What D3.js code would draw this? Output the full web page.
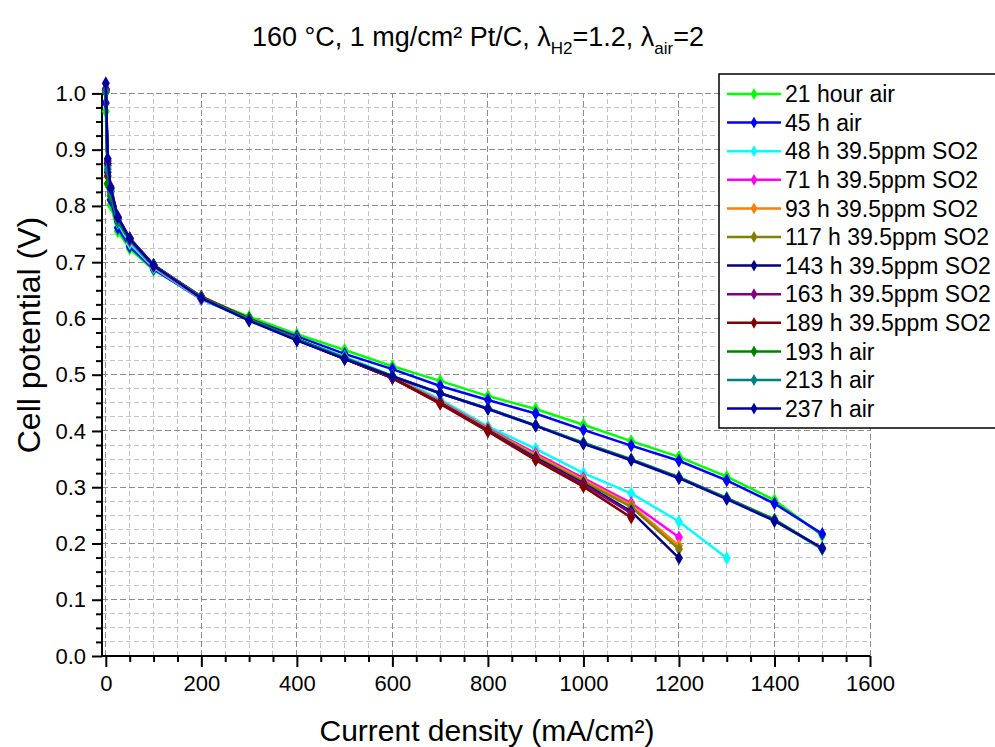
<!DOCTYPE html>
<html>
<head>
<meta charset="utf-8">
<script src="https://cdn.jsdelivr.net/npm/d3@7"></script>
<style>
  body { margin: 0; background: #fff; }
  svg text { font-family: "Liberation Sans", Arial, sans-serif; fill: #000; }
</style>
</head>
<body>
<svg id="chart" width="995" height="747"></svg>
<script>
// current density steps (mA/cm²), shared by all runs
var current_density = [0, 4, 10, 25, 50, 100, 200, 300, 400, 500, 600, 700, 800, 900, 1000, 1100, 1200, 1300, 1400, 1500];

// cell potential (V) per run
var v_21h  = [0.968, 0.838, 0.802, 0.755, 0.724, 0.686, 0.636, 0.603, 0.572, 0.544, 0.515, 0.489, 0.462, 0.439, 0.411, 0.382, 0.354, 0.319, 0.277, 0.214];
var v_45h  = [0.983, 0.860, 0.811, 0.761, 0.728, 0.688, 0.634, 0.599, 0.568, 0.537, 0.510, 0.480, 0.455, 0.431, 0.402, 0.374, 0.347, 0.312, 0.271, 0.217];
var v_48h  = [1.005, 0.868, 0.823, 0.770, 0.733, 0.690, 0.634, 0.598, 0.564, 0.532, 0.498, 0.456, 0.408, 0.368, 0.325, 0.289, 0.239, 0.174];
var v_71h  = [1.005, 0.872, 0.828, 0.775, 0.738, 0.692, 0.635, 0.598, 0.563, 0.530, 0.496, 0.453, 0.405, 0.360, 0.316, 0.272, 0.211];
var v_93h  = [1.006, 0.874, 0.830, 0.778, 0.740, 0.693, 0.636, 0.598, 0.563, 0.530, 0.496, 0.452, 0.404, 0.357, 0.313, 0.268, 0.196];
var v_117h = [1.006, 0.872, 0.830, 0.778, 0.741, 0.694, 0.637, 0.598, 0.562, 0.529, 0.495, 0.451, 0.403, 0.354, 0.310, 0.265, 0.190];
var v_143h = [1.008, 0.876, 0.832, 0.780, 0.742, 0.695, 0.637, 0.597, 0.562, 0.528, 0.494, 0.450, 0.401, 0.352, 0.307, 0.257, 0.174];
var v_163h = [1.008, 0.880, 0.834, 0.781, 0.743, 0.695, 0.638, 0.598, 0.562, 0.528, 0.494, 0.450, 0.401, 0.350, 0.305, 0.254];
var v_189h = [1.005, 0.853, 0.825, 0.778, 0.742, 0.695, 0.639, 0.600, 0.563, 0.528, 0.494, 0.448, 0.399, 0.348, 0.301, 0.246];
var v_193h = [1.002, 0.840, 0.818, 0.772, 0.740, 0.694, 0.638, 0.599, 0.563, 0.530, 0.498, 0.467, 0.440, 0.410, 0.379, 0.350, 0.318, 0.281, 0.243, 0.191];
var v_213h = [1.004, 0.865, 0.826, 0.776, 0.742, 0.695, 0.637, 0.598, 0.562, 0.529, 0.497, 0.467, 0.440, 0.410, 0.378, 0.349, 0.317, 0.280, 0.241, 0.190];
var v_237h = [1.018, 0.884, 0.832, 0.780, 0.742, 0.694, 0.636, 0.596, 0.561, 0.528, 0.497, 0.467, 0.439, 0.409, 0.377, 0.348, 0.316, 0.279, 0.240, 0.192];

var series_names  = ["21 hour air", "45 h air", "48 h 39.5ppm SO2", "71 h 39.5ppm SO2", "93 h 39.5ppm SO2", "117 h 39.5ppm SO2",
                     "143 h 39.5ppm SO2", "163 h 39.5ppm SO2", "189 h 39.5ppm SO2", "193 h air", "213 h air", "237 h air"];
var series_values = [v_21h, v_45h, v_48h, v_71h, v_93h, v_117h, v_143h, v_163h, v_189h, v_193h, v_213h, v_237h];
var series_colors = ["#00ff00", "#0000ff", "#00ffff", "#ff00ff", "#ff8000", "#808000",
                     "#000080", "#800080", "#800000", "#008000", "#008080", "#0000a0"];

var x_ticks = [0, 200, 400, 600, 800, 1000, 1200, 1400, 1600];
var y_ticks = [0.0, 0.1, 0.2, 0.3, 0.4, 0.5, 0.6, 0.7, 0.8, 0.9, 1.0];

var series = series_names.map(function(name, i) {
   return { name: name, color: series_colors[i],
            points: series_values[i].map(function(v, j) { return { x: current_density[j], y: v }; }) };
});

var svg = d3.select("#chart");
var x = d3.scaleLinear().domain([-8, 1600]).range([102, 870]);
var y = d3.scaleLinear().domain([0, 1]).range([656, 93.4]);

var x_minor = d3.range(50, 1600, 50).filter(function(d) { return d % 200 != 0; });
var y_minor = d3.range(1, 40).filter(function(d) { return d % 4 != 0; }).map(function(d) { return d * 0.025; });

// grid: minor first, then major
var grid = svg.append("g").attr("id", "grid");
grid.selectAll("line.xminor").data(x_minor)
   .enter().append("line").attr("class", "xminor")
   .attr("x1", function(d) { return x(d); }).attr("x2", function(d) { return x(d); })
   .attr("y1", y(0)).attr("y2", y(1))
   .attr("stroke", "#c4c4c4").attr("stroke-dasharray", "5 3").style("shape-rendering", "crispEdges");
grid.selectAll("line.yminor").data(y_minor)
   .enter().append("line").attr("class", "yminor")
   .attr("x1", x(-8)).attr("x2", x(1600))
   .attr("y1", function(d) { return y(d); }).attr("y2", function(d) { return y(d); })
   .attr("stroke", "#c4c4c4").attr("stroke-dasharray", "5 3").style("shape-rendering", "crispEdges");
grid.selectAll("line.xmajor").data(x_ticks)
   .enter().append("line").attr("class", "xmajor")
   .attr("x1", function(d) { return x(d); }).attr("x2", function(d) { return x(d); })
   .attr("y1", y(0)).attr("y2", y(1))
   .attr("stroke", "#8c8c8c").attr("stroke-dasharray", "6 3").style("shape-rendering", "crispEdges");
grid.selectAll("line.ymajor").data(y_ticks.slice(1))
   .enter().append("line").attr("class", "ymajor")
   .attr("x1", x(-8)).attr("x2", x(1600))
   .attr("y1", function(d) { return y(d); }).attr("y2", function(d) { return y(d); })
   .attr("stroke", "#8c8c8c").attr("stroke-dasharray", "6 3").style("shape-rendering", "crispEdges");

// axes
var x_axis = svg.append("g").attr("transform", "translate(0," + y(0) + ")")
   .call(d3.axisBottom(x).tickValues(x_ticks).tickSize(11).tickPadding(8).tickFormat(d3.format("d")));
x_axis.append("g").call(d3.axisBottom(x).tickValues(x_minor).tickSize(6).tickFormat(""));
var y_axis = svg.append("g").attr("transform", "translate(" + x(-8) + ",0)")
   .call(d3.axisLeft(y).tickValues(y_ticks).tickSize(10).tickPadding(6).tickFormat(d3.format(".1f")));
y_axis.append("g").call(d3.axisLeft(y).tickValues(y_minor).tickSize(6).tickFormat(""));
svg.selectAll(".domain").attr("stroke", "#000").attr("stroke-width", 2);
svg.selectAll(".tick line").attr("stroke", "#000").attr("stroke-width", 2);
x_axis.selectAll(".domain").attr("d", "M" + x(-8) + ",0H" + x(1600));
y_axis.selectAll(".domain").attr("d", "M0," + y(1) + "V" + y(0));
svg.selectAll(".tick text").style("font-size", "22px").style("font-family", "'Liberation Sans', Arial, sans-serif");

// curves
var line = d3.line().x(function(d) { return x(d.x); }).y(function(d) { return y(d.y); });
var diamond = d3.symbol().type(d3.symbolDiamond).size(55);
var curves = svg.append("g").attr("id", "curves");
series.forEach(function(s) {
   var g = curves.append("g");
   g.append("path").attr("d", line(s.points)).attr("fill", "none").attr("stroke", s.color).attr("stroke-width", 2.5);
   g.selectAll("path.pt").data(s.points).enter().append("path").attr("class", "pt")
      .attr("d", diamond).attr("fill", s.color)
      .attr("transform", function(d) { return "translate(" + x(d.x) + "," + y(d.y) + ")"; });
});

// legend
var legend = svg.append("g").attr("id", "legend").attr("transform", "translate(719,74)");
legend.append("rect").attr("x", 0).attr("y", 0).attr("width", 300).attr("height", 354)
   .attr("fill", "#fff").attr("stroke", "#000").attr("stroke-width", 1.5);
var rows = legend.selectAll("g.row").data(series).enter().append("g").attr("class", "row")
   .attr("transform", function(d, i) { return "translate(0," + (20 + i * 28.6) + ")"; });
rows.append("line").attr("x1", 8).attr("x2", 62).attr("y1", 0).attr("y2", 0)
   .attr("stroke", function(d) { return d.color; }).attr("stroke-width", 2.5);
rows.append("path").attr("d", d3.symbol().type(d3.symbolDiamond).size(40))
   .attr("transform", "translate(35,0)").attr("fill", function(d) { return d.color; });
rows.append("text").attr("x", 66).attr("y", 0).attr("dy", "0.36em")
   .style("font-size", "23px").text(function(d) { return d.name; });

// title
var title = svg.append("text").attr("x", 478).attr("y", 46).attr("text-anchor", "middle").style("font-size", "27px");
title.append("tspan").text("160 °C, 1 mg/cm² Pt/C, λ");
title.append("tspan").attr("dy", 8).style("font-size", "17px").text("H2");
title.append("tspan").attr("dy", -8).text("=1.2, λ");
title.append("tspan").attr("dy", 8).style("font-size", "17px").text("air");
title.append("tspan").attr("dy", -8).text("=2");

// axis titles
svg.append("text").attr("x", 487).attr("y", 741).attr("text-anchor", "middle")
   .style("font-size", "30px").text("Current density (mA/cm²)");
svg.append("text").attr("transform", "translate(40,335) rotate(-90)").attr("text-anchor", "middle")
   .style("font-size", "32px").text("Cell potential (V)");
</script>
</body>
</html>
